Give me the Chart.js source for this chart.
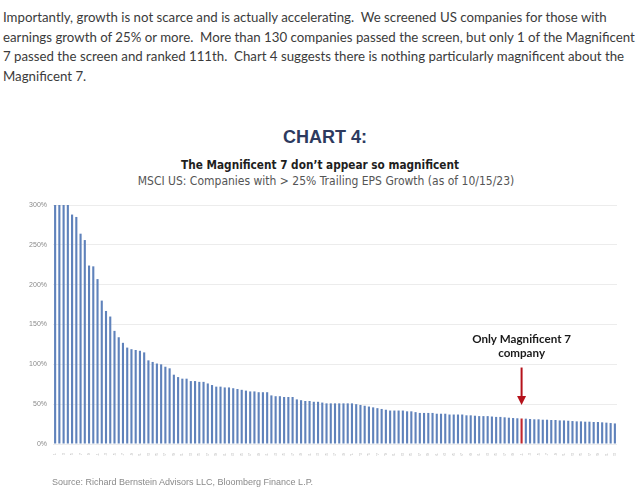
<!DOCTYPE html>
<html>
<head>
<meta charset="utf-8">
<script src="https://cdn.jsdelivr.net/npm/chart.js@4.4.0/dist/chart.umd.min.js"></script>
<style>
    body {
        margin: 0;
        width: 640px;
        height: 493px;
        background: white;
        position: relative;
        overflow: hidden;
    }
    #texto {
        position: absolute;
        left: 3px;
        top: 8px;
        font-family: 'Lato', sans-serif;
        font-size: 13.25px;
        line-height: 19.7px;
        color: #3b3b3b;
        white-space: pre;
    }
    .titulo {
        position: absolute;
        width: 640px;
        text-align: center;
        white-space: pre;
    }
    #titulo1 {
        left: 5px;
        top: 127px;
        font-family: 'Liberation Sans', Arial, sans-serif;
        font-weight: bold;
        font-size: 18px;
        color: #2d3a5e;
    }
    #titulo2 {
        left: 0px;
        top: 157px;
        font-family: 'Liberation Sans Narrow', 'DejaVu Sans Condensed', Arial, sans-serif;
        font-weight: bold;
        font-size: 13px;
        color: #1e1e1e;
        transform: scaleX(0.9);
    }
    #titulo3 {
        left: 6px;
        top: 174px;
        font-family: 'Liberation Sans Narrow', 'DejaVu Sans Condensed', Arial, sans-serif;
        font-size: 12px;
        color: #555555;
    }
    #fonte {
        position: absolute;
        left: 52px;
        top: 477px;
        font-family: 'Liberation Sans', Arial, sans-serif;
        font-size: 9px;
        color: #8a8a8a;
    }
    #grafico {
        position: absolute;
        left: 0;
        top: 0;
    }
</style>
</head>
<body>
<div id="texto">Importantly, growth is not scarce and is actually accelerating.  We screened US companies for those with
earnings growth of 25% or more.  More than 130 companies passed the screen, but only 1 of the Magnificent
7 passed the screen and ranked 111th.  Chart 4 suggests there is nothing particularly magnificent about the
Magnificent 7.</div>
<div class="titulo" id="titulo1">CHART 4:</div>
<div class="titulo" id="titulo2">The Magnificent 7 don’t appear so magnificent</div>
<div class="titulo" id="titulo3">MSCI US: Companies with &gt; 25% Trailing EPS Growth (as of 10/15/23)</div>
<canvas id="grafico" width="640" height="493"></canvas>
<div id="fonte">Source: Richard Bernstein Advisors LLC, Bloomberg Finance L.P.</div>

<script>
// posição no ranking de cada empresa
let ranking = [
    '1', '2', '3', '4', '5', '6', '7', '8', '9', '10', '11', '12', '13', '14', '15', '16', '17', '18', '19', '20',
    '21', '22', '23', '24', '25', '26', '27', '28', '29', '30', '31', '32', '33', '34', '35', '36', '37', '38', '39', '40',
    '41', '42', '43', '44', '45', '46', '47', '48', '49', '50', '51', '52', '53', '54', '55', '56', '57', '58', '59', '60',
    '61', '62', '63', '64', '65', '66', '67', '68', '69', '70', '71', '72', '73', '74', '75', '76', '77', '78', '79', '80',
    '81', '82', '83', '84', '85', '86', '87', '88', '89', '90', '91', '92', '93', '94', '95', '96', '97', '98', '99', '100',
    '101', '102', '103', '104', '105', '106', '107', '108', '109', '110', '111', '112', '113', '114', '115', '116', '117', '118', '119', '120',
    '121', '122', '123', '124', '125', '126', '127', '128', '129', '130', '131', '132', '133'
];

// crescimento do EPS (%), do maior para o menor
let crescimento = [
    300, 300, 300, 300, 288, 285, 264, 256, 224, 223,
    207, 180, 167, 160, 142, 134, 127, 121, 119, 118,
    117, 115, 105, 103, 101, 100, 97, 95, 87, 84,
    82, 82, 79, 79, 78, 78, 76, 74, 72, 72,
    71, 71, 70, 69, 68, 67, 66, 66, 65, 65,
    65, 61, 60, 60, 59, 59, 59, 56, 55, 54,
    54, 53, 53, 52, 51, 51, 51, 51, 51, 51,
    51, 50, 49, 48, 47, 46, 45, 44, 43, 42,
    42, 42, 42, 41, 41, 40, 39, 39, 39, 39,
    38, 38, 38, 37, 37, 37, 37, 36, 36, 35.5,
    35, 35, 35, 34.5, 34, 34, 33.5, 33, 32.6, 32.3,
    32, 31.8, 31.4, 31, 31, 30.5, 30.5, 30.1, 30.1, 29.6,
    29.6, 29.2, 28.8, 28.4, 28.4, 28, 28, 27.6, 27.6, 27.2,
    26.8, 26.3, 25.8
];

let ticksY = ['0%', '50%', '100%', '150%', '200%', '250%', '300%'];

let posicaoMag7 = 111;
let textoSeta = ['Only Magnificent 7', 'company'];

let coresBarras = ranking.map((r, i) => (i === posicaoMag7 - 1) ? '#c1272d' : '#5f82bb');

const setaMag7 = {
    id: 'setaMag7',
    afterDatasetsDraw(chart) {
        const ctx = chart.ctx;
        const x = chart.scales.x.getPixelForValue(posicaoMag7 - 1);
        const y = chart.scales.y;
        const yInicio = y.getPixelForValue(96);
        const yPonta = y.getPixelForValue(49);

        ctx.save();
        ctx.strokeStyle = '#b5121b';
        ctx.fillStyle = '#b5121b';
        ctx.lineWidth = 2;
        ctx.beginPath();
        ctx.moveTo(x, yInicio);
        ctx.lineTo(x, yPonta - 8);
        ctx.stroke();
        ctx.beginPath();
        ctx.moveTo(x - 4.5, yPonta - 9);
        ctx.lineTo(x + 4.5, yPonta - 9);
        ctx.lineTo(x, yPonta);
        ctx.closePath();
        ctx.fill();

        ctx.fillStyle = '#1a1a1a';
        ctx.font = 'bold 11.6px Lato, sans-serif';
        ctx.textAlign = 'center';
        ctx.textBaseline = 'middle';
        ctx.fillText(textoSeta[0], x, y.getPixelForValue(132));
        ctx.fillText(textoSeta[1], x, y.getPixelForValue(114));
        ctx.restore();
    }
};

const grafico = document.getElementById('grafico').getContext('2d');

let graficoEps = new Chart(grafico, {
    type: 'bar',
    data: {
        labels: ranking,
        datasets: [{
            label: 'Trailing EPS Growth',
            data: crescimento,
            backgroundColor: coresBarras,
            barPercentage: 0.5,
            categoryPercentage: 1
        }]
    },
    options: {
        responsive: false,
        animation: false,
        layout: {
            padding: { top: 205, right: 23, bottom: 37, left: 0 }
        },
        plugins: {
            legend: { display: false },
            tooltip: { enabled: false }
        },
        scales: {
            y: {
                min: 0,
                max: 300,
                afterFit: (escala) => { escala.width = 53; },
                border: { display: false },
                grid: {
                    color: '#ececec',
                    drawTicks: false
                },
                ticks: {
                    stepSize: 50,
                    padding: 6,
                    color: '#8a8a8a',
                    font: { family: 'Liberation Sans', size: 7 },
                    callback: (valor, i) => ticksY[i]
                }
            },
            x: {
                afterFit: (escala) => { escala.height = 12; },
                border: { display: false },
                grid: { display: false },
                ticks: {
                    autoSkip: false,
                    minRotation: 90,
                    maxRotation: 90,
                    padding: 1,
                    color: '#b8b8b8',
                    font: { family: 'Liberation Sans', size: 4 },
                    callback: (valor, i) => (i % 2 === 0) ? ranking[i] : ''
                }
            }
        }
    },
    plugins: [setaMag7]
});
</script>
</body>
</html>
